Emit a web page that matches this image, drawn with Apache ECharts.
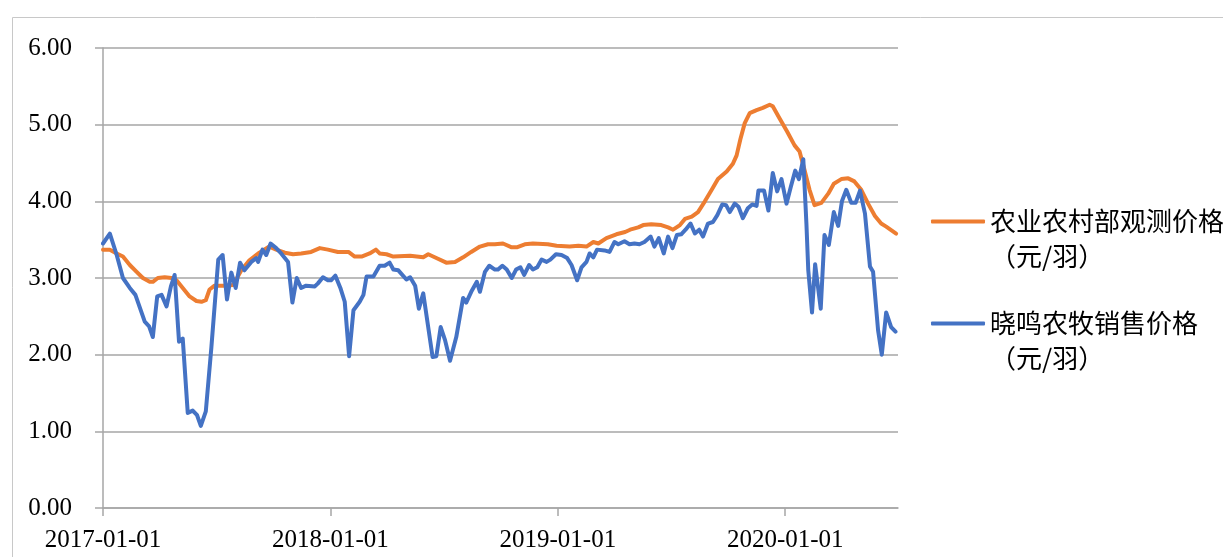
<!DOCTYPE html>
<html>
<head>
<meta charset="utf-8">
<script src="https://cdn.jsdelivr.net/npm/echarts@6/dist/echarts.min.js"></script>
<style>
html,body{margin:0;padding:0;background:#fff;}
#chart{width:1223px;height:557px;}
</style>
</head>
<body>
<div id="chart"></div>
<script>
// ---- data ----
const seriesNames = ['农业农村部观测价格\n（元/羽）', '晓鸣农牧销售价格\n（元/羽）'];
const xTickLabels = ['2017-01-01', '2018-01-01', '2019-01-01', '2020-01-01'];
const yTickLabels = ['0.00', '1.00', '2.00', '3.00', '4.00', '5.00', '6.00'];

const orangeDates = [
'2017-01-01','2017-01-12','2017-01-23','2017-02-02','2017-02-13','2017-02-24','2017-03-06','2017-03-17','2017-03-22','2017-03-30',
'2017-04-10','2017-04-21','2017-04-29','2017-05-09','2017-05-20','2017-05-31','2017-06-08','2017-06-15','2017-06-21','2017-06-29',
'2017-07-13','2017-07-29','2017-08-11','2017-08-24','2017-09-09','2017-09-25','2017-10-06','2017-10-20','2017-11-02','2017-11-15',
'2017-12-01','2017-12-15','2017-12-28','2018-01-13','2018-01-30','2018-02-09','2018-02-20','2018-03-05','2018-03-15','2018-03-21',
'2018-04-01','2018-04-12','2018-05-09','2018-05-30','2018-06-07','2018-06-20','2018-07-06','2018-07-20','2018-08-02','2018-08-15',
'2018-08-29','2018-09-11','2018-09-22','2018-10-05','2018-10-19','2018-10-27','2018-11-09','2018-11-22','2018-12-16','2018-12-30',
'2019-01-20','2019-02-03','2019-02-16','2019-02-27','2019-03-07','2019-03-20','2019-04-05','2019-04-19','2019-04-27','2019-05-10',
'2019-05-18','2019-05-31','2019-06-16','2019-06-27','2019-07-05','2019-07-16','2019-07-24','2019-08-04','2019-08-14','2019-08-25',
'2019-09-05','2019-09-15','2019-09-29','2019-10-09','2019-10-15','2019-10-21','2019-10-28','2019-11-05','2019-11-16','2019-11-26',
'2019-12-07','2019-12-12','2019-12-23','2020-01-04','2020-01-16','2020-01-24','2020-02-01','2020-02-09','2020-02-17','2020-02-28',
'2020-03-10','2020-03-19','2020-03-31','2020-04-11','2020-04-21','2020-05-02','2020-05-13','2020-05-24','2020-06-03','2020-06-11',
'2020-06-27'];
const orangeValues = [
3.37,3.37,3.32,3.28,3.17,3.08,3.00,2.95,2.95,3.00,
3.01,3.00,2.97,2.87,2.76,2.70,2.69,2.71,2.85,2.90,
2.90,2.91,3.10,3.23,3.33,3.41,3.37,3.33,3.31,3.32,
3.34,3.39,3.37,3.34,3.34,3.28,3.28,3.32,3.37,3.32,
3.31,3.28,3.29,3.27,3.31,3.26,3.20,3.21,3.27,3.34,
3.41,3.44,3.44,3.45,3.40,3.40,3.44,3.45,3.44,3.42,
3.41,3.42,3.41,3.47,3.45,3.52,3.57,3.60,3.63,3.66,
3.69,3.70,3.69,3.66,3.63,3.69,3.77,3.80,3.86,4.00,
4.15,4.29,4.39,4.49,4.60,4.81,5.02,5.15,5.19,5.22,
5.26,5.24,5.08,4.91,4.73,4.65,4.41,4.15,3.95,3.98,
4.10,4.23,4.29,4.30,4.26,4.15,3.97,3.81,3.71,3.67,
3.58];

const blueDates = [
'2017-01-01','2017-01-12','2017-01-23','2017-02-02','2017-02-13','2017-02-22','2017-03-09','2017-03-16','2017-03-22','2017-03-29',
'2017-04-05','2017-04-13','2017-04-20','2017-04-26','2017-05-03','2017-05-09','2017-05-17','2017-05-25','2017-06-01','2017-06-07',
'2017-06-15','2017-06-24','2017-07-05','2017-07-12','2017-07-19','2017-07-26','2017-08-02','2017-08-09','2017-08-16','2017-08-27',
'2017-09-04','2017-09-07','2017-09-14','2017-09-20','2017-09-27','2017-10-06','2017-10-14','2017-10-25','2017-11-01','2017-11-08',
'2017-11-15','2017-11-23','2017-12-07','2017-12-12','2017-12-20','2017-12-28','2018-01-02','2018-01-09','2018-01-17','2018-01-24',
'2018-01-31','2018-02-07','2018-02-17','2018-02-23','2018-02-28','2018-03-11','2018-03-21','2018-03-29','2018-04-06','2018-04-12',
'2018-04-20','2018-05-03','2018-05-09','2018-05-17','2018-05-23','2018-05-30','2018-06-14','2018-06-20','2018-06-27','2018-07-04',
'2018-07-12','2018-07-22','2018-08-02','2018-08-07','2018-08-15','2018-08-24','2018-08-29','2018-09-06','2018-09-13','2018-09-22',
'2018-09-27','2018-10-04','2018-10-11','2018-10-19','2018-10-26','2018-11-02','2018-11-08','2018-11-16','2018-11-22','2018-11-29',
'2018-12-06','2018-12-14','2018-12-20','2018-12-29','2019-01-07','2019-01-16','2019-01-23','2019-02-01','2019-02-08','2019-02-16',
'2019-02-21','2019-02-27','2019-03-05','2019-03-17','2019-03-25','2019-04-02','2019-04-08','2019-04-18','2019-04-26','2019-05-04',
'2019-05-12','2019-05-20','2019-05-30','2019-06-05','2019-06-12','2019-06-20','2019-06-27','2019-07-04','2019-07-11','2019-07-18',
'2019-07-25','2019-08-02','2019-08-09','2019-08-16','2019-08-22','2019-08-30','2019-09-07','2019-09-14','2019-09-22','2019-09-28',
'2019-10-04','2019-10-12','2019-10-18','2019-10-25','2019-11-02','2019-11-09','2019-11-16','2019-11-19','2019-11-28','2019-12-05',
'2019-12-12','2019-12-19','2019-12-26','2020-01-03','2020-01-10','2020-01-17','2020-01-23','2020-01-30','2020-02-04','2020-02-07',
'2020-02-13','2020-02-18','2020-02-27','2020-03-04','2020-03-11','2020-03-19','2020-03-26','2020-04-01','2020-04-08','2020-04-16',
'2020-04-23','2020-04-30','2020-05-08','2020-05-16','2020-05-21','2020-05-29','2020-06-04','2020-06-11','2020-06-19','2020-06-26'];
const blueValues = [
3.45,3.58,3.30,3.00,2.87,2.78,2.43,2.37,2.23,2.76,
2.78,2.63,2.89,3.04,2.17,2.21,1.24,1.27,1.21,1.07,
1.26,2.10,3.24,3.30,2.72,3.07,2.87,3.20,3.10,3.21,
3.26,3.21,3.37,3.30,3.45,3.39,3.32,3.21,2.68,3.00,
2.87,2.90,2.89,2.93,3.01,2.97,2.97,3.03,2.87,2.69,
1.98,2.58,2.69,2.78,3.02,3.02,3.16,3.16,3.20,3.11,
3.10,2.98,3.01,2.90,2.60,2.80,1.97,1.98,2.36,2.19,
1.92,2.23,2.74,2.68,2.82,2.95,2.82,3.08,3.16,3.11,
3.11,3.16,3.11,3.00,3.11,3.14,3.04,3.17,3.11,3.14,
3.24,3.21,3.24,3.31,3.30,3.26,3.17,2.97,3.14,3.21,
3.32,3.27,3.37,3.36,3.34,3.47,3.44,3.48,3.44,3.45,
3.44,3.47,3.54,3.41,3.52,3.32,3.54,3.39,3.56,3.57,
3.63,3.71,3.58,3.63,3.54,3.71,3.73,3.82,3.96,3.95,
3.86,3.97,3.93,3.78,3.91,3.96,3.94,4.14,4.14,3.88,
4.37,4.13,4.29,3.97,4.19,4.40,4.29,4.55,3.71,3.10,
2.55,3.18,2.60,3.56,3.43,3.86,3.68,4.00,4.15,3.98,
3.98,4.14,3.84,3.15,3.08,2.32,2.00,2.55,2.36,2.30];

const xMinDate = '2017-01-01';
const xMaxDate = '2020-06-30';
const orangeColor = '#ED7D31';
const blueColor = '#4472C4';

// ---- build ----
const DAY = 86400000;
const toPairs = (ds, vs) => ds.map((d, i) => [Date.parse(d), vs[i]]);
function fmtDate(v) {
  const d = new Date(v);
  const p = n => (n < 10 ? '0' : '') + n;
  return d.getUTCFullYear() + '-' + p(d.getUTCMonth() + 1) + '-' + p(d.getUTCDate());
}

const chart = echarts.init(document.getElementById('chart'), null, {renderer: 'canvas'});
const gridColor = '#a6a6a6';
const option = {
  backgroundColor: '#ffffff',
  animation: false,
  graphic: [{
    type: 'rect', left: 10, top: 15, silent: true,
    shape: {width: 1211, height: 560},
    style: {fill: 'none', stroke: '#c8c8c8', lineWidth: 1}
  }],
  grid: {left: 103, right: 325, top: 48, bottom: 49},
  legend: {
    orient: 'vertical',
    left: 926,
    top: 164,
    itemWidth: 54,
    itemHeight: 4,
    itemGap: -3,
    icon: 'roundRect',
    data: seriesNames,
    formatter: name => ' \n' + name,
    textStyle: {
      fontFamily: '"Noto Sans CJK SC", sans-serif',
      fontSize: 26,
      color: '#000',
      lineHeight: 35
    }
  },
  xAxis: {
    type: 'value',
    min: Date.parse(xMinDate),
    max: Date.parse(xMaxDate),
    interval: 365 * DAY,
    axisLine: {show: true, onZero: false, lineStyle: {color: gridColor, width: 1.5}},
    axisTick: {show: true, length: 8, lineStyle: {color: gridColor, width: 1.5}},
    splitLine: {show: false},
    axisLabel: {
      showMaxLabel: false,
      margin: 20,
      fontFamily: '"Liberation Serif", "Times New Roman", serif',
      fontSize: 25,
      color: '#000',
      formatter: v => {
        const s = fmtDate(v);
        return xTickLabels.indexOf(s) >= 0 ? s : '';
      }
    }
  },
  yAxis: {
    type: 'value',
    min: 0, max: 6, interval: 1,
    axisLine: {show: true, lineStyle: {color: gridColor, width: 1.5}},
    axisTick: {show: true, length: 8, lineStyle: {color: gridColor, width: 1.5}},
    splitLine: {show: true, lineStyle: {color: gridColor, width: 1.5}},
    axisLabel: {
      margin: 31,
      fontFamily: '"Liberation Serif", "Times New Roman", serif',
      fontSize: 25,
      color: '#000',
      formatter: v => yTickLabels[Math.round(v)]
    }
  },
  series: [
    {
      name: seriesNames[0], type: 'line', showSymbol: false, smooth: false,
      lineStyle: {color: orangeColor, width: 4, join: 'round', cap: 'round'},
      itemStyle: {color: orangeColor},
      data: toPairs(orangeDates, orangeValues), z: 2
    },
    {
      name: seriesNames[1], type: 'line', showSymbol: false, smooth: false,
      lineStyle: {color: blueColor, width: 4, join: 'round', cap: 'round'},
      itemStyle: {color: blueColor},
      data: toPairs(blueDates, blueValues), z: 3
    }
  ]
};
chart.setOption(option);
</script>
</body>
</html>
